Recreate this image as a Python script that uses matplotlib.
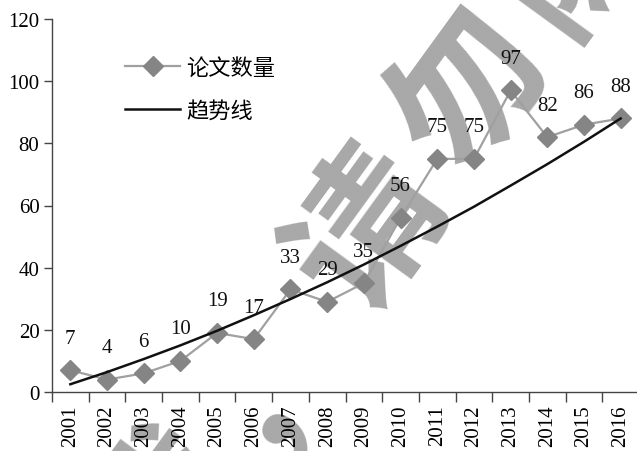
import numpy as np
import matplotlib
matplotlib.use("Agg")
import matplotlib.pyplot as plt
from matplotlib.ticker import FixedLocator, NullFormatter, FixedFormatter

plt.rcParams['font.family'] = ['Liberation Serif', 'Noto Sans CJK SC', 'DejaVu Sans']

years = ['2001', '2002', '2003', '2004', '2005', '2006', '2007', '2008',
         '2009', '2010', '2011', '2012', '2013', '2014', '2015', '2016']
papers = [7, 4, 6, 10, 19, 17, 33, 29, 35, 56, 75, 75, 97, 82, 86, 88]
trend = [2.5, 6.4, 10.6, 15.0, 19.7, 24.7, 29.9, 35.3,
         41.0, 47.0, 53.2, 59.6, 66.4, 73.3, 80.5, 88.0]
series_name = '论文数量'
trend_name = '趋势线'

x = np.arange(1, len(years) + 1)

W, H = 637, 452
fig = plt.figure(figsize=(W / 100, H / 100), dpi=100)

# watermark behind the chart
wm_chars = ['载', '，', '请', '勿', '随', '意']
ang = 54
step = 172
cx0, cy0 = 370, 230   # centre of 请 in pixels
d = np.array([np.cos(np.radians(ang)), -np.sin(np.radians(ang))])
for k, ch in enumerate(wm_chars):
    px, py = np.array([cx0, cy0]) + (k - 2) * step * d
    fig.text(px / W, 1 - py / H, ch, rotation=ang,
             fontsize=110, color='#a8a8a8', fontweight='bold',
             family='Noto Sans CJK SC', ha='center', va='center',
             rotation_mode='anchor', zorder=-5)

ax = fig.add_axes([52 / W, (H - 393) / H, 587 / W, 373 / H])
ax.set_facecolor('none')

ax.plot(x, papers, color='#a0a0a0', lw=1.6, marker='D', ms=10,
        mfc='#858585', mec='#858585', label=series_name, zorder=3)
ax.plot(x, trend, color='#111111', lw=1.8, label=trend_name, zorder=4)

for xi, v in zip(x, papers):
    ax.annotate(str(v), (xi, v), xytext=(0, 23), textcoords='offset points',
                ha='center', va='center', fontsize=15, color='#111111')

ax.set_xlim(0.5, len(years) + 0.5)
ax.set_ylim(0, 120)
ax.set_yticks(range(0, 121, 20))
ax.tick_params(axis='y', direction='out', length=6, width=1, color='#444444',
               labelsize=15, pad=3)

ax.xaxis.set_major_locator(FixedLocator(np.arange(0.5, len(years) + 1, 1)))
ax.xaxis.set_major_formatter(NullFormatter())
ax.xaxis.set_minor_locator(FixedLocator(x))
ax.xaxis.set_minor_formatter(FixedFormatter(years))
ax.tick_params(axis='x', which='major', direction='out', length=7, width=1,
               color='#444444')
ax.tick_params(axis='x', which='minor', length=0, labelsize=15, pad=9,
               labelrotation=90)

for s in ['top', 'right']:
    ax.spines[s].set_visible(False)
for s in ['left', 'bottom']:
    ax.spines[s].set_color('#444444')
    ax.spines[s].set_linewidth(1)

ax.legend(loc='upper left', bbox_to_anchor=(0.09, 0.95), frameon=False,
          prop={'family': ['Liberation Serif', 'Noto Sans CJK SC'], 'size': 16},
          handlelength=2.5, labelspacing=1.0, handletextpad=0.25)

fig.savefig('out.png', dpi=100)
